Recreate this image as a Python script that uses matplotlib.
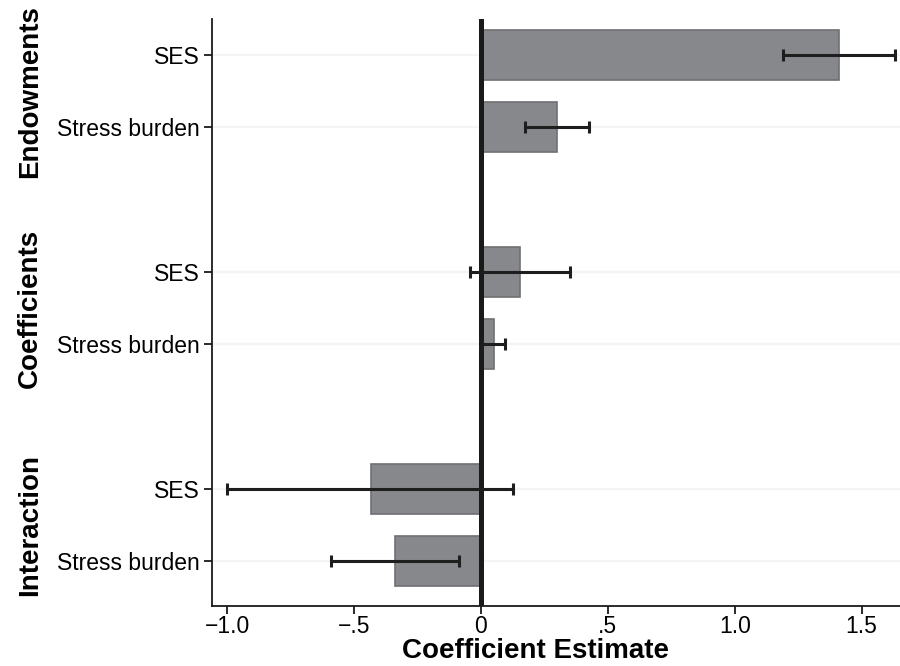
import numpy as np
import matplotlib.pyplot as plt
import matplotlib.transforms as mtransforms

plt.rcParams['font.family'] = ['Liberation Sans', 'DejaVu Sans']

groups = ["Endowments", "Coefficients", "Interaction"]
row_labels = ["SES", "Stress burden", "SES", "Stress burden", "SES", "Stress burden"]
estimates = [1.41, 0.30, 0.154, 0.05, -0.433, -0.339]
ci_low = [1.19, 0.173, -0.045, 0.005, -1.0, -0.59]
ci_high = [1.63, 0.425, 0.35, 0.094, 0.126, -0.087]

# rows top to bottom, with a gap of one row between groups
pos = np.array([0, 1, 3, 4, 6, 7])
est = np.array(estimates)
lo = est - np.array(ci_low)
hi = np.array(ci_high) - est

fig = plt.figure(figsize=(9, 6.66), dpi=100)
ax = fig.add_axes([0.2356, 0.09, 0.764, 0.8815])

for p in pos:
    ax.axhline(p, color='#f4f4f4', lw=1.6, zorder=0)

ax.barh(pos, est, height=0.69, color='#87888b', edgecolor='#6f7073', lw=1.2, zorder=2)
ax.axvline(0, color='#1a1a1a', lw=3.6, zorder=3)
ax.errorbar(est, pos, xerr=[lo, hi], fmt='none', ecolor='#1e1e1e', elinewidth=2.2,
            capsize=4.5, capthick=2.2, zorder=4)

ax.set_ylim(7.62, -0.5)
ax.set_xlim(-1.06, 1.65)
ax.set_yticks(pos)
ax.set_yticklabels(row_labels, fontsize=16.5)
ax.set_xticks([-1.0, -0.5, 0, 0.5, 1.0, 1.5])
ax.set_xticklabels(["\u22121.0", "\u2212.5", "0", ".5", "1.0", "1.5"], fontsize=16.5)
ax.tick_params(axis='both', length=6, width=1.3, color='#1a1a1a')
ax.tick_params(axis='x', pad=0.5)
ax.tick_params(axis='y', pad=3)

for s in ['top', 'right']:
    ax.spines[s].set_visible(False)
for s in ['left', 'bottom']:
    ax.spines[s].set_linewidth(1.3)
    ax.spines[s].set_color('#1a1a1a')

ax.set_xlabel("Coefficient Estimate", fontsize=20, fontweight='bold')
ax.xaxis.set_label_coords(0.47, -0.054)

trans = mtransforms.blended_transform_factory(ax.transAxes, ax.transData)
for g, (a, b) in zip(groups, [(0, 1), (3, 4), (6, 7)]):
    ax.text(-0.265, (a + b) / 2, g, transform=trans, rotation=90, fontsize=20,
            fontweight='bold', ha='center', va='center')

fig.savefig("out.png", dpi=100)
